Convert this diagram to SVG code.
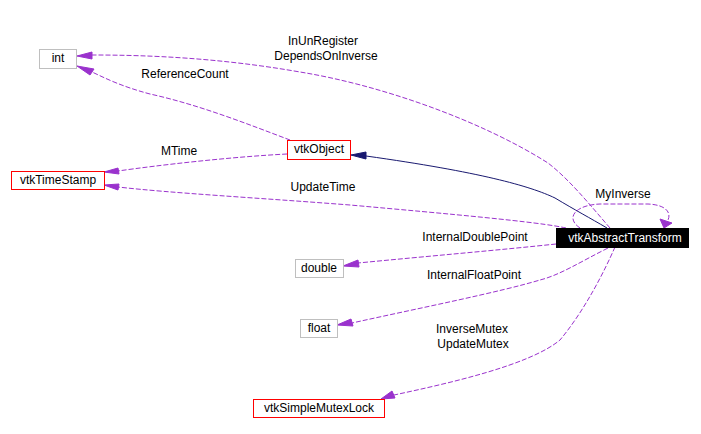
<svg xmlns="http://www.w3.org/2000/svg" width="701" height="434" viewBox="0 0 701 434">
<style>
text{font-family:"Liberation Sans",Arial,sans-serif;font-size:12px;fill:#000}
.n{text-anchor:middle}
.gray{fill:#fff;stroke:#bfbfbf;stroke-width:1}
.red{fill:#fff;stroke:#ff0000;stroke-width:1}
.blk{fill:#000;stroke:#000}
.d{fill:none;stroke:#9a32cd;stroke-width:1;stroke-dasharray:5,2}
.s{fill:none;stroke:#191970;stroke-width:1}
.ah{fill:#9a32cd;stroke:#9a32cd}
.an{fill:#191970;stroke:#191970}
</style>
<rect width="701" height="434" fill="#fff"/>
<g id="edges">
<!-- vtkAbstractTransform -> vtkObject (inheritance) -->
<path class="s" d="M607,228 C590,218 575,210 555,198 C530,186 480,172 366,156"/>
<polygon class="an" points="351,155 366,152 366,159"/>
<!-- InUnRegister/DependsOnInverse -> int -->
<path class="d" d="M610,228 C590,205 570,180 548,163 C480,120 380,85 300,72 C220,58 150,55 92,55"/>
<polygon class="ah" points="77,56 92,52 92,59"/>
<!-- ReferenceCount -->
<path class="d" d="M290,140 C250,125 200,105 150,94 C120,86 105,78 92,72"/>
<polygon class="ah" points="77,66 94,69 90,75"/>
<!-- MTime -->
<path class="d" d="M287,154 C230,157 160,165 118,171"/>
<polygon class="ah" points="104,172 118,168 119,174"/>
<!-- UpdateTime -->
<path class="d" d="M566,228 C540,222 450,214 350,205 C260,198 170,193 118,187"/>
<polygon class="ah" points="104,185 119,184 118,190"/>
<!-- MyInverse self loop -->
<path class="d" d="M580,228 C565,218 575,205 600,204 L648,204 C668,205 672,214 667,222"/>
<polygon class="ah" points="664,228 660,219 672,223"/>
<!-- InternalDoublePoint -->
<path class="d" d="M556,244 C500,250 430,256 358,263"/>
<polygon class="ah" points="343,266 358,260 359,267"/>
<!-- InternalFloatPoint -->
<path class="d" d="M608,248 C580,262 560,275 540,280 C500,292 420,308 352,323"/>
<polygon class="ah" points="337,325 351,319 353,326"/>
<!-- InverseMutex/UpdateMutex -->
<path class="d" d="M615,247 C605,270 585,310 560,340 C530,365 450,383 394,395"/>
<polygon class="ah" points="381,399 392,391 395,398"/>
</g>
<g id="labels">
<text class="n" x="323" y="45">InUnRegister</text>
<text class="n" x="326" y="60">DependsOnInverse</text>
<text class="n" x="185" y="78">ReferenceCount</text>
<text class="n" x="179" y="155">MTime</text>
<text class="n" x="323" y="191">UpdateTime</text>
<text class="n" x="623" y="198">MyInverse</text>
<text class="n" x="475" y="241">InternalDoublePoint</text>
<text class="n" x="474" y="279">InternalFloatPoint</text>
<text class="n" x="472" y="333">InverseMutex</text>
<text class="n" x="473" y="348">UpdateMutex</text>
</g>
<g id="node-int"><rect class="gray" x="39.5" y="49.5" width="37" height="19"/><text class="n" x="58" y="62">int</text></g>
<g id="node-vtkObject"><rect class="red" x="287.5" y="140.5" width="63" height="19"/><text class="n" x="319" y="153">vtkObject</text></g>
<g id="node-vtkTimeStamp"><rect class="red" x="11.5" y="171.5" width="93" height="18"/><text class="n" x="58" y="184">vtkTimeStamp</text></g>
<g id="node-vtkAbstractTransform"><rect class="blk" x="556.5" y="228.5" width="132" height="19"/><text class="n" x="625" y="242" style="fill:#fff">vtkAbstractTransform</text></g>
<g id="node-double"><rect class="gray" x="295.5" y="259.5" width="48" height="18"/><text class="n" x="319" y="272">double</text></g>
<g id="node-float"><rect class="gray" x="300.5" y="319.5" width="37" height="18"/><text class="n" x="319" y="332">float</text></g>
<g id="node-vtkSimpleMutexLock"><rect class="red" x="253.5" y="399.5" width="131" height="18"/><text class="n" x="319" y="412">vtkSimpleMutexLock</text></g>
</svg>
